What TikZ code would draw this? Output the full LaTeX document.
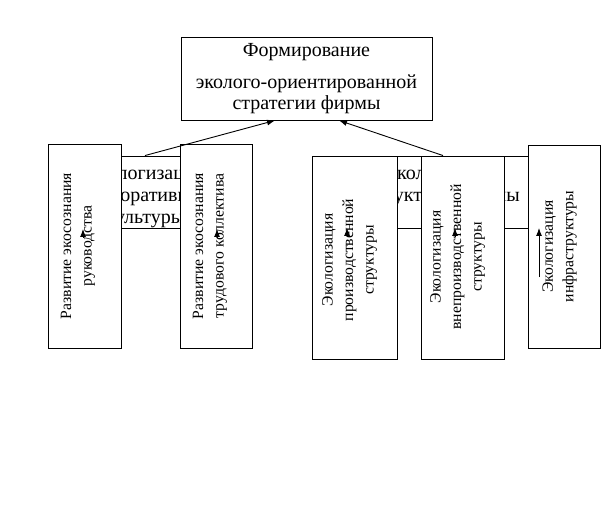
\documentclass[tikz,border=0pt]{standalone}
\usepackage{fontspec}
\setmainfont{Liberation Serif}
\usetikzlibrary{arrows.meta}

\begin{document}
\begin{tikzpicture}[
    x=1pt, y=-1pt,
    plainbox/.style={rectangle, draw=black, fill=white, line width=0.9pt, inner sep=0pt},
    goalbox/.style={plainbox, minimum width=251pt, minimum height=83pt, align=center, font=\fontsize{20}{21}\selectfont},
    groupbox/.style={plainbox, minimum height=72pt},
    grouptext/.style={align=center, inner sep=0pt, anchor=north, font=\fontsize{20}{22}\selectfont},
    vbox/.style={plainbox, minimum height=204pt, minimum width=73pt},
    vtext/.style={rotate=90, align=center, inner sep=0pt, font=\fontsize{15.7}{20.5}\selectfont},
    arrow/.style={-{Latex[length=8pt,width=6pt]}, line width=0.9pt}
]
    \useasboundingbox (0,0) rectangle (613,505);

    % Goal
    \node[goalbox] (goal) at (306.5,78.5) {Формирование\\[11pt]эколого-ориентированной\\стратегии фирмы};

    % Groups (partly hidden)
    \node[groupbox, minimum width=124pt] (corp) at (145,192) {};
    \node[grouptext] (corptxt) at (145,166) {Экологизация\\корпоративной\\культуры};
    \node[groupbox, minimum width=180pt] (struct) at (443,192) {};
    \node[grouptext] (structtxt) at (443,166) {Экологизация\\структуры фирмы};

    % Culture boxes
    \node[vbox] (lead) at (84.5,246) {};
    \node[vtext] (leadtxt) at (78,246) {Развитие экосознания\\руководства};
    \node[vbox, minimum width=72pt] (staff) at (216,246) {};
    \node[vtext] (stafftxt) at (210,246) {Развитие экосознания\\трудового коллектива};

    % Structure boxes
    \node[vbox, minimum width=85pt, minimum height=203pt] (prod) at (354.5,257.5) {};
    \node[vtext] (prodtxt) at (349.5,260) {Экологизация\\производственной\\структуры};
    \node[vbox, minimum width=83pt, minimum height=203pt] (nonprod) at (462.5,257.5) {};
    \node[vtext] (nonprodtxt) at (457.5,257) {Экологизация\\внепроизводственной\\структуры};
    \node[vbox, minimum width=72pt, minimum height=203pt] (infra) at (564,246.5) {};
    \node[vtext] (infratxt) at (559.5,246.5) {Экологизация\\инфраструктуры};

    % Arrows to the goal
    \draw[arrow] (corp.north) -- ([xshift=-31.5pt]goal.south);
    \draw[arrow] (struct.north) -- ([xshift=32.5pt]goal.south);

    % Short arrows inside the boxes
    \coordinate (leadfrom) at (83,238);
    \coordinate (leadto) at (83,229);
    \coordinate (stafffrom) at (217,238);
    \coordinate (staffto) at (217,229);
    \coordinate (prodfrom) at (347,237);
    \coordinate (prodto) at (347,228);
    \coordinate (nonprodfrom) at (455,237);
    \coordinate (nonprodto) at (455,228);
    \coordinate (infrafrom) at (539,277);
    \coordinate (infrato) at (539,228);
    \draw[arrow] (leadfrom) -- (leadto);
    \draw[arrow] (stafffrom) -- (staffto);
    \draw[arrow] (prodfrom) -- (prodto);
    \draw[arrow] (nonprodfrom) -- (nonprodto);
    \draw[arrow] (infrafrom) -- (infrato);
\end{tikzpicture}
\end{document}
